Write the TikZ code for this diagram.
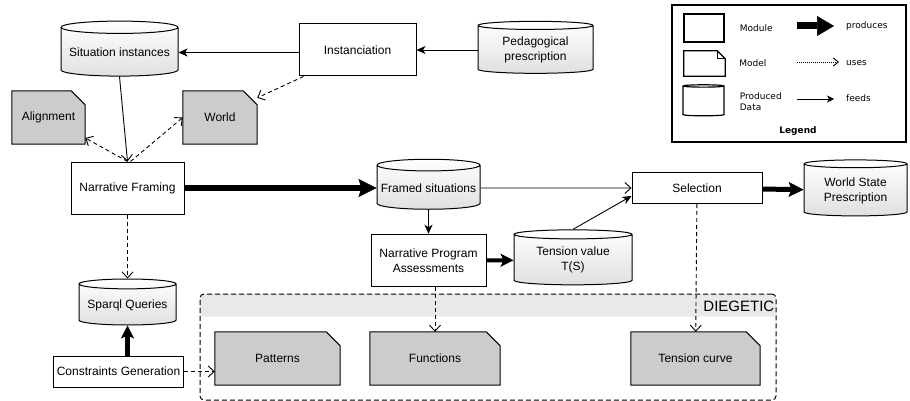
\documentclass[tikz,border=0pt]{standalone}
\usepackage{fontspec}
\setmainfont{Liberation Sans}
\newfontfamily\legendfont{DejaVu Sans}
\usetikzlibrary{arrows.meta,positioning,shapes.geometric,backgrounds}
\definecolor{notegray}{HTML}{CCCCCC}
\definecolor{bandgray}{HTML}{E9E9E9}
\definecolor{storegray}{HTML}{E0E0E0}
\tikzset{
  modulebox/.style={draw, fill=white, line width=1pt, align=center, inner sep=1pt, font=\fontsize{12}{15}\selectfont},
  datastore/.style={cylinder, shape border rotate=90, aspect=0.12, draw, line width=1pt, top color=white, bottom color=storegray, align=center, inner sep=1pt, font=\fontsize{12}{15}\selectfont},
  modelnote/.style={fill=notegray, align=center, inner sep=1pt, font=\fontsize{12}{15}\selectfont},
  notefold/.style={draw, line width=1pt},
  feeds/.style={-{Stealth[length=9pt,width=8pt,inset=2.5pt]}, line width=0.9pt},
  feedsopen/.style={-{Straight Barb[length=6pt,width=11pt]}, line width=0.9pt},
  uses/.style={-{Straight Barb[length=6pt,width=11pt]}, line width=0.9pt, dash pattern=on 4pt off 3pt},
  produces/.style 2 args={line width=#1, -{Stealth[length=#2, width=#2, inset=3pt, line width=0.5pt]}},
  diegbox/.style={draw, dash pattern=on 5pt off 3pt, rounded corners=4pt, line width=1pt},
  legendtext/.style={font=\legendfont\fontsize{9}{11.5}\selectfont, align=left, inner sep=0pt, anchor=west},
}
\begin{document}
\begin{tikzpicture}[x=1pt, y=-1pt, node distance=30pt]
\useasboundingbox (0,0) rectangle (910,401);

% diegetic group
\node[diegbox, minimum width=576pt, minimum height=106pt] (dieg) at (488,347) {};
\begin{scope}[on background layer]
\fill[bandgray, rounded corners=3pt] ([shift={(0.5pt,-0.5pt)}]dieg.north west) rectangle ([shift={(-0.5pt,-23pt)}]dieg.north east);
\end{scope}
\node[anchor=north east, font=\fontsize{15}{18}\selectfont, inner sep=2pt, yshift=-5pt] (diegtitle) at (dieg.north east) {DIEGETIC};

% upper part
\node[datastore, minimum width=117pt, minimum height=55pt] (sit) at (119.5,52.5) {Situation instances};
\node[modulebox, minimum width=117pt, minimum height=52pt] (inst) at (357.5,50) {Instanciation};
\node[datastore, minimum width=115pt, minimum height=52pt, right=61pt of inst] (ped) {Pedagogical\\prescription};
\node[modelnote, minimum width=73pt, minimum height=53pt] (align) at (48.5,117.5) {Alignment};
\node[modelnote, minimum width=74pt, minimum height=53pt] (world) at (220,117.5) {World};

% main line
\node[modulebox, minimum width=113pt, minimum height=52pt] (nf) at (127.5,188) {Narrative Framing};
\node[datastore, minimum width=103pt, minimum height=50pt, right=192pt of nf] (fs) {Framed situations};
\node[modulebox, minimum width=130pt, minimum height=31pt, right=151pt of fs] (sel) {Selection};
\node[datastore, minimum width=103pt, minimum height=56pt, right=41pt of sel, yshift=-2.5pt] (wsp) {World State\\Prescription};
\node[modulebox, minimum width=115pt, minimum height=52pt, below=24pt of fs] (npa) {Narrative Program\\Assessments};
\node[datastore, minimum width=118pt, minimum height=55pt, right=27pt of npa] (tv) {Tension value\\T(S)};

% lower part
\node[datastore, minimum width=97pt, minimum height=46pt, below=64pt of nf] (sparql) {Sparql Queries};
\node[modulebox, minimum width=130pt, minimum height=31pt, below=30pt of sparql, xshift=-9pt] (cg) {Constraints Generation};
\node[modelnote, minimum width=125pt, minimum height=53pt] (pat) at (277.5,358.5) {Patterns};
\node[modelnote, minimum width=130pt, minimum height=53pt] (fun) at (435,358.5) {Functions};
\node[modelnote, minimum width=129pt, minimum height=53pt] (tc) at (695.5,358.5) {Tension curve};

\foreach \n in {align,world,pat,fun,tc}{
  \fill[white] ([xshift=-14pt]\n.north east) -- (\n.north east) -- ([yshift=-14pt]\n.north east) -- cycle;
  \draw[notefold] (\n.north west) -- ([xshift=-14pt]\n.north east) -- ([yshift=-14pt]\n.north east) -- (\n.south east) -- (\n.south west) -- cycle;
}

\draw[feeds] (inst.west |- sit.east) -- (sit.east);
\draw[feeds] (ped.west) -- (inst.east);
\draw[uses] ([xshift=5pt]inst.south west) -- ([yshift=-7pt]world.north east);
\draw[feedsopen] (sit.south) -- (nf.north);
\draw[uses] (nf.north) -- (align);
\draw[uses] ([xshift=3pt]nf.north) -- (world.west);
\draw[produces={6pt}{18pt}] (nf) -- (fs);
\draw[feeds] (fs) -- (npa);
\draw[feedsopen] (fs) -- (sel);
\draw[feeds] (tv.north) -- ([yshift=-8pt]sel.west);
\draw[produces={4pt}{13pt}] (npa) -- (tv);
\draw[produces={5pt}{15pt}] (sel) -- (wsp);
\draw[uses] (sel) -- (tc);
\draw[uses] (npa.south -| fun.north) -- (fun.north);
\draw[uses] (nf) -- (sparql);
\draw[produces={4.5pt}{13pt}] (cg.north -| sparql.south) -- (sparql.south);
\draw[uses] (cg) -- (pat.west |- cg);

% legend
\node[draw, line width=1.2pt, minimum width=234pt, minimum height=137pt] (legend) at (789,73.5) {};
\node[draw, line width=1.2pt, minimum width=40pt, minimum height=28pt] (lgmodule) at (704,28) {};
\node[legendtext, right=15pt of lgmodule] (lgmodtxt) {Module};
\node[fill=white, minimum width=41pt, minimum height=25pt] (lgmodel) at (704.5,63.5) {};
\draw[line width=1.2pt] (lgmodel.north west) -- ([xshift=-8pt]lgmodel.north east) -- ([yshift=-8pt]lgmodel.north east) -- (lgmodel.south east) -- (lgmodel.south west) -- cycle;
\draw[line width=0.8pt] ([xshift=-8pt]lgmodel.north east) |- ([yshift=-8pt]lgmodel.north east);
\node[legendtext, right=14pt of lgmodel] (lgmodeltxt) {Model};
\node[cylinder, shape border rotate=90, aspect=0.35, draw, line width=1.2pt, minimum width=41pt, minimum height=31pt] (lgdata) at (703.5,101.5) {};
\node[legendtext, right=15pt of lgdata] (lgdatatxt) {Produced\\Data};

\coordinate (lgprodA) at (797,26);
\coordinate (lgprodB) at (834,26);
\coordinate (lgusesA) at (797,62);
\coordinate (lgusesB) at (839,62);
\coordinate (lgfeedsA) at (797,99);
\coordinate (lgfeedsB) at (834,99);
\draw[line width=7pt, -{Triangle[length=17pt,width=20pt,line width=0.5pt]}] (lgprodA) -- (lgprodB);
\draw[line width=0.9pt, dash pattern=on 1pt off 1pt, -{Straight Barb[length=5pt,width=8pt]}] (lgusesA) -- (lgusesB);
\draw[line width=0.9pt, -{Stealth[length=7pt,width=7pt,inset=2pt]}] (lgfeedsA) -- (lgfeedsB);
\node[legendtext] (lgprod) at (846,26) {produces};
\node[legendtext] (lguses) at (846,63) {uses};
\node[legendtext] (lgfeeds) at (846,98) {feeds};
\node[font=\legendfont\bfseries\fontsize{9}{11}\selectfont] (lgtitle) at (798,131) {Legend};
\end{tikzpicture}
\end{document}
